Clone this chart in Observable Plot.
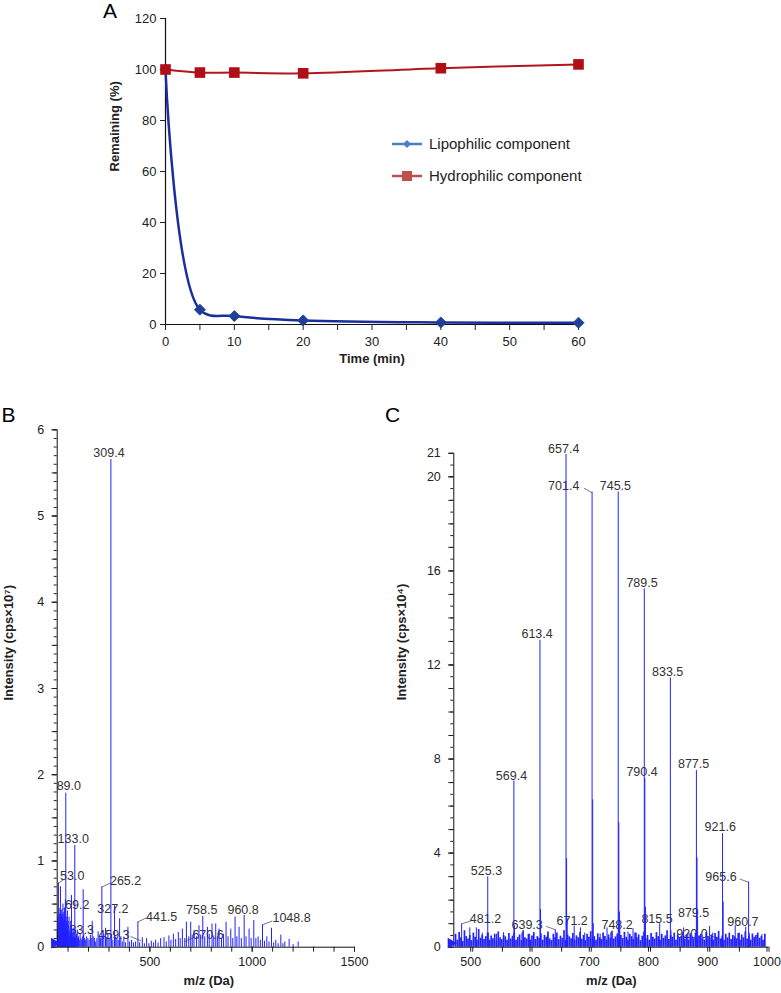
<!DOCTYPE html>
<html><head><meta charset="utf-8">
<script src="https://cdn.jsdelivr.net/npm/d3@7"></script>
<script src="https://cdn.jsdelivr.net/npm/@observablehq/plot@0.6"></script>
<style>
body{margin:0;background:#fff;font-family:"Liberation Sans",Arial,sans-serif;}
#fig{position:relative;width:781px;height:993px;overflow:hidden;background:#fff;}
.panel{position:absolute;}
.letter{position:absolute;font-size:21px;color:#000;line-height:1;}
.leg{position:absolute;font-size:15px;color:#222;display:flex;align-items:center;height:16px;line-height:16px;}
.leg svg{margin-right:7px;}
</style></head><body><div id="fig"></div><script>
// ---------- Panel A data ----------
const timeMin = [0, 5, 10, 20, 40, 60];
const lipophilic = [100, 5.8, 3.3, 1.6, 0.8, 0.7];
const hydrophilic = [100, 98.8, 98.8, 98.5, 100.5, 102];
const seriesNames = ["Lipophilic component", "Hydrophilic component"];
const yTicksA = [0, 20, 40, 60, 80, 100, 120];

// ---------- Panel B data (m/z, intensity ×10^7) ----------
const specB = [
[48,0.2],[50,0.35],[51,0.15],[53,0.742],[55,0.3],[56,0.45],[57,0.25],[59,0.38],[60,0.2],[63,0.70],[64,0.3],[65,0.42],[67,0.28],[68,0.35],[69.2,0.43],[70,0.2],[71,0.3],[73,0.38],[74,0.15],[75,0.5],[77,0.22],[78,0.3],[79,0.4],[81,0.33],[82,0.18],[83,0.45],[85,0.25],[86,0.3],[87,0.55],[89,1.786],[90,0.3],[91,0.35],[93,0.2],[95,0.28],[97,0.42],[98,0.15],[99,0.25],[101,0.3],[103,0.18],[105,0.35],[107,0.12],[109,0.2],[111,0.15],[113,0.3],[115,0.25],[117,0.6],[119,0.2],[121,0.15],[123,0.1],[125,0.22],[127,0.12],[129,0.18],[131,0.1],[133,1.18],[135,0.2],[137,0.12],[139,0.08],[141,0.15],[145,0.2],[147,0.1],[151,0.12],[155,0.08],[159,0.15],[163,0.1],[167,0.08],[171,0.12],[174,0.666],[177,0.15],[181,0.1],[186,0.08],[191,0.12],[197,0.1],[203,0.08],[209,0.14],[213,0.1],[218,0.3],[223,0.12],[229,0.1],[235,0.06],[241,0.1],[247,0.18],[253,0.12],[259,0.1],[265.2,0.70],[269,0.12],[275,0.15],[283.3,0.22],[289,0.1],[295,0.15],[301,0.1],[309.4,5.656],[313,0.15],[319,0.08],[327.2,0.48],[333,0.12],[339,0.1],[345,0.08],[352,0.33],[358,0.12],[365,0.06],[373,0.1],[381,0.05],[392.6,0.23],[400,0.06],[410,0.08],[420,0.05],[430,0.06],[441.5,0.29],[450,0.05],[463,0.11],[473,0.04],[484,0.1],[495,0.04],[507,0.07],[518,0.05],[528,0.08],[540,0.05],[552.6,0.1],[569,0.11],[580,0.06],[593,0.13],[603,0.08],[614.8,0.15],[626,0.09],[639,0.17],[648,0.1],[658.8,0.21],[670.6,0.1],[678.4,0.29],[690,0.12],[699.5,0.29],[707,0.14],[715.6,0.19],[728,0.12],[740,0.25],[748,0.14],[758.5,0.357],[768,0.12],[781.2,0.23],[790,0.15],[803.7,0.27],[812,0.13],[821.8,0.27],[830,0.12],[838,0.21],[850,0.1],[860,0.15],[872.3,0.29],[882,0.12],[895.3,0.21],[905,0.1],[916.3,0.35],[925,0.12],[935.9,0.23],[947,0.1],[960.8,0.37],[970,0.12],[984.8,0.21],[995,0.1],[1007.9,0.31],[1018,0.1],[1028.9,0.12],[1040,0.08],[1050.4,0.26],[1060,0.07],[1071.5,0.12],[1082,0.06],[1094.4,0.22],[1105,0.05],[1115.5,0.08],[1127,0.04],[1139.9,0.14],[1150,0.04],[1159.5,0.06],[1180.6,0.09],[1200,0.03],[1224.7,0.06]
];
const labelsB = [
["309.4",300,5.73],["89.0",103.8,1.865],["133.0",125.3,1.249],["53.0",120.4,0.82],["69.2",144.9,0.49],["283.3",149.8,0.20],["265.2",381.3,0.762],["327.2",319.1,0.445],["441.5",557.5,0.356],["459.3",324,0.144],["758.5",753.3,0.434],["670.6",784.2,0.136],["960.8",955.5,0.434],["1048.8",1192.4,0.336]
];
const leadersB = [[51.9,0.742,79.3,0.785],[68,0.425,87.6,0.466],[263.8,0.696,307.9,0.745],[438.6,0.29,481.6,0.339],[405.8,0.124,457.2,0.072],[670,0.066,714.2,0.112],[1050.4,0.26,1098.4,0.304]];
const xDomainB = [47, 1500];
const yDomainB = [0, 6];
const xLabelsB = [500, 1000, 1500];

// ---------- Panel C data (m/z, intensity ×10^4) ----------
const mainC = [
[481.2,1.0],[525.3,2.99],[526.3,0.6],[569.4,7.07],[570.4,0.9],[613.4,13.05],[614.4,1.6],[639.3,0.74],[657.4,20.95],[658.4,3.77],[659.4,1.2],[671.2,0.9],[701.4,19.35],[702.4,6.26],[703.4,1.0],[745.5,19.35],[746.5,5.29],[747.5,1.5],[748.2,0.8],[789.5,15.24],[790.4,7.18],[791.5,1.7],[815.5,1.0],[833.5,11.45],[834.5,0.7],[877.5,7.51],[878.5,3.8],[879.5,1.3],[920.0,0.35],[921.6,4.83],[922.6,1.92],[960.7,0.85],[965.6,2.77],[966.6,0.6]
];
const midC = [[495,0.82],[506,0.82],[516,0.6],[540,0.55],[552,0.62],[583,0.6],[596,0.55],[626,0.5],[681.7,0.82],[689,0.6],[715,0.55],[726.6,0.82],[733,0.6],[762,0.65],[770.5,0.78],[776,0.6],[855.9,0.82],[863,0.6],[899.7,0.88],[905,0.6],[943,0.92],[950,0.6],[988,0.54]];
const noiseStartC = 471, noiseStepC = 3;
const noiseC = [0.55,0.3,0.62,0.4,0.25,0.7,0.45,0.35,0.5,0.28,0.6,0.42,0.3,0.75,0.38,0.5,0.33,0.45,0.6,0.3,0.48,0.36,0.55,0.27,0.65,0.4,0.32,0.5,0.44,0.3,0.58,0.35,0.47,0.6,0.3,0.42,0.52,0.28,0.7,0.4,0.35,0.55,0.3,0.48,0.62,0.33,0.45,0.38,0.57,0.3,0.5,0.42,0.65,0.35,0.28,0.55,0.4,0.6,0.32,0.47,0.38,0.7,0.3,0.52,0.44,0.36,0.58,0.3,0.48,0.4,0.62,0.34,0.5,0.28,0.55,0.42,0.66,0.35,0.45,0.3,0.57,0.4,0.33,0.6,0.46,0.3,0.52,0.38,0.68,0.35,0.44,0.56,0.3,0.5,0.37,0.63,0.42,0.3,0.55,0.45,0.33,0.6,0.4,0.52,0.28,0.47,0.65,0.36,0.5,0.3,0.58,0.42,0.35,0.62,0.45,0.3,0.55,0.38,0.48,0.7,0.33,0.5,0.42,0.6,0.3,0.53,0.4,0.46,0.64,0.35,0.5,0.3,0.57,0.43,0.36,0.6,0.32,0.48,0.55,0.4,0.3,0.62,0.45,0.38,0.52,0.3,0.58,0.42,0.67,0.35,0.47,0.3,0.55,0.4,0.6,0.33,0.5,0.44,0.36,0.58,0.3,0.52,0.4,0.65,0.35,0.48,0.3,0.56,0.42,0.5,0.6,0.38,0.45,0.3,0.55];
const labelsC = [
["657.4",653.5,21.19],["701.4",653.5,19.59],["745.5",740.7,19.6],["789.5",785.7,15.48],["613.4",608.6,13.32],["833.5",828.9,11.69],["569.4",565.3,7.3],["790.4",785.7,7.44],["877.5",872.7,7.77],["921.6",917.7,5.1],["525.3",523.1,3.23],["965.6",918.9,2.98],["481.2",521.5,1.18],["639.3",591.8,0.95],["671.2",667.7,1.13],["748.2",743.6,0.95],["815.5",811,1.21],["879.5",872.7,1.46],["920.0",870,0.57],["960.7",956,1.09]
];
const leadersC = [[687.6,19.52,701.4,19.32],[950.6,2.9,965.5,2.76],[482.2,1.0,496.2,1.11],[623.8,0.89,639.5,0.74],[900.9,0.5,916.6,0.33]];
const xDomainC = [468, 1000];
const yDomainC = [0, 21];
const yLabelsC = [0, 4, 8, 12, 16, 20, 21];
const xLabelsC = [500, 600, 700, 800, 900, 1000];

// ---------- colours ----------
const blueLine = "#1b2ea0", blueMark = "#1f3f98", blueLeg = "#4a7ec0";
const redLine = "#b3161e", redMark = "#b10f18", redLeg = "#c0504d";
const specColor = "#2222ff";
const font = "'Liberation Sans', Arial, sans-serif";
const fmt = d => String(d);

const fig = document.getElementById("fig");
function place(node, left, top) {
  const d = document.createElement("div");
  d.className = "panel"; d.style.left = left + "px"; d.style.top = top + "px";
  d.appendChild(node); fig.appendChild(d); return d;
}
function letter(t, left, top) {
  const d = document.createElement("div");
  d.className = "letter"; d.textContent = t; d.style.left = left + "px"; d.style.top = top + "px";
  fig.appendChild(d);
}

// ---------- Panel A ----------
const lipo = timeMin.map((t, i) => ({t, v: lipophilic[i]}));
const hydro = timeMin.map((t, i) => ({t, v: hydrophilic[i]}));
const plotA = Plot.plot({
  width: 500, height: 375,
  marginLeft: 65, marginTop: 18, marginRight: 22, marginBottom: 51,
  style: {fontFamily: font, fontSize: "13px", background: "transparent", color: "#222"},
  x: {domain: [0, 60], axis: null},
  y: {domain: [0, 120], axis: null},
  marks: [
    Plot.ruleY([0], {stroke: "#111", strokeWidth: 1.2}),
    Plot.ruleX([0], {stroke: "#111", strokeWidth: 1.2}),
    Plot.axisY({ticks: yTicksA, tickSize: 5, tickPadding: 4, fontSize: 13, label: null, color: "#222", tickFormat: fmt}),
    Plot.axisX({ticks: d3.range(0, 61, 5), tickSize: 6, tickPadding: 6, fontSize: 13, label: null, color: "#222",
      tickFormat: d => d % 10 === 0 ? String(d) : ""}),
    Plot.line(lipo, {x: "t", y: "v", curve: "catmull-rom", stroke: blueLine, strokeWidth: 2.5}),
    Plot.dot(lipo, {x: "t", y: "v", symbol: "diamond2", r: 5, fill: blueMark, stroke: blueMark, strokeWidth: 0.8}),
    Plot.line(hydro, {x: "t", y: "v", curve: "catmull-rom", stroke: redLine, strokeWidth: 2}),
    Plot.dot(hydro, {x: "t", y: "v", symbol: "square", r: 6, fill: redMark}),
    Plot.text(["Remaining (%)"], {text: d => d, frameAnchor: "left", dx: -51, rotate: -90, fontWeight: "bold", fontSize: 13, fill: "#222"}),
    Plot.text(["Time (min)"], {text: d => d, frameAnchor: "bottom", dy: 38, fontWeight: "bold", fontSize: 13, fill: "#222"})
  ]
});
place(plotA, 100, 0);
letter("A", 103, 0);

// legend
function legendItem(name, top, color, markerSvg) {
  const d = document.createElement("div");
  d.className = "leg"; d.style.left = "392px"; d.style.top = top + "px";
  d.innerHTML = `<svg width="30" height="16"><line x1="0" y1="8" x2="30" y2="8" stroke="${color}" stroke-width="2.5"/>${markerSvg}</svg><span>${name}</span>`;
  fig.appendChild(d);
}
legendItem(seriesNames[0], 136, blueLeg, `<path d="M15 4 L19 8 L15 12 L11 8 Z" fill="${blueLeg}"/>`);
legendItem(seriesNames[1], 168, redLeg, `<rect x="10" y="3" width="10" height="10" fill="${redLeg}"/>`);

// ---------- spectrum panel builder ----------
function spectrum(o) {
  return Plot.plot({
    width: o.width, height: 613,
    marginLeft: o.ml, marginRight: o.mr, marginTop: o.mt, marginBottom: 46.3,
    style: {fontFamily: font, fontSize: "12.5px", background: "transparent", color: "#222"},
    x: {domain: o.xd, axis: null},
    y: {domain: o.yd, axis: null},
    marks: [
      Plot.axisY({ticks: o.yMinor, tickSize: 3, tickFormat: () => "", label: null, color: "#222"}),
      Plot.axisY({ticks: o.yMid, tickSize: 5, tickFormat: () => "", label: null, color: "#222"}),
      Plot.axisY({ticks: o.yLabels, tickSize: 5, tickPadding: 8, fontSize: 12.5, label: null, color: "#222", tickFormat: fmt}),
      Plot.axisX({ticks: o.xTicks, tickSize: 5, tickFormat: () => "", label: null, color: "#222"}),
      Plot.axisX({ticks: o.xLabels, tickSize: 5, tickPadding: 5, fontSize: 12.5, label: null, color: "#222", tickFormat: fmt, dx: o.xldx}),
      Plot.text(o.labels, {x: d => d[1], y: d => d[2], text: d => d[0], fontSize: 12.5, fill: "#333"}),
      Plot.link(o.leaders, {x1: d => d[0], y1: d => d[1], x2: d => d[2], y2: d => d[3], stroke: "#555", strokeWidth: 0.8}),
      ...o.spectra.map(s => Plot.ruleX(s.data, {x: d => d[0], y1: 0, y2: d => d[1], stroke: specColor, strokeWidth: s.w})),
      Plot.ruleY([0], {stroke: "#111"}),
      Plot.ruleX([o.xd[0]], {stroke: "#111"}),
      Plot.dot([o.xd[0]], {x: d => d, y: () => 0, symbol: "triangle", rotate: 90, r: 4, fill: specColor, dx: -3, dy: -4}),
      Plot.text([o.yTitle], {text: d => d, frameAnchor: "left", dx: o.ytdx, dy: o.ytdy, rotate: -90, fontWeight: "bold", fontSize: 13, fill: "#222"}),
      Plot.text(["m/z (Da)"], {text: d => d, frameAnchor: "bottom", dx: o.xtdx, dy: 37.3, fontWeight: "bold", fontSize: 13, fill: "#222"})
    ]
  });
}

// ---------- Panel B ----------
const plotB = spectrum({
  width: 380, ml: 56.7, mr: 26, mt: 49.3,
  xd: xDomainB, yd: yDomainB,
  yMinor: d3.range(0, 61).map(i => i / 10), yMid: d3.range(0, 13).map(i => i / 2), yLabels: d3.range(0, 7),
  xTicks: d3.range(100, 1501, 100), xLabels: xLabelsB, xldx: 0,
  labels: labelsB, leaders: leadersB,
  spectra: [{data: specB, w: 1}],
  yTitle: "Intensity (cps×10⁷)", ytdx: -48.7, ytdy: 12, xtdx: 3
});
place(plotB, 0, 380);
letter("B", 1.5, 404);

// ---------- Panel C ----------
const noiseData = noiseC.map((v, i) => [noiseStartC + i * noiseStepC, v]);
const plotC = spectrum({
  width: 401, ml: 73.3, mr: 12.5, mt: 72.8,
  xd: xDomainC, yd: yDomainC,
  yMinor: d3.range(0, 43).map(i => i / 2), yMid: d3.range(0, 22), yLabels: yLabelsC,
  xTicks: d3.range(500, 1001, 50), xLabels: xLabelsC, xldx: -2,
  labels: labelsC, leaders: leadersC,
  spectra: [{data: noiseData, w: 1.7}, {data: midC, w: 1}, {data: mainC, w: 1}],
  yTitle: "Intensity (cps×10⁴)", ytdx: -52.3, ytdy: 0, xtdx: 0
});
place(plotC, 380, 380);
letter("C", 385, 404);
</script></body></html>
